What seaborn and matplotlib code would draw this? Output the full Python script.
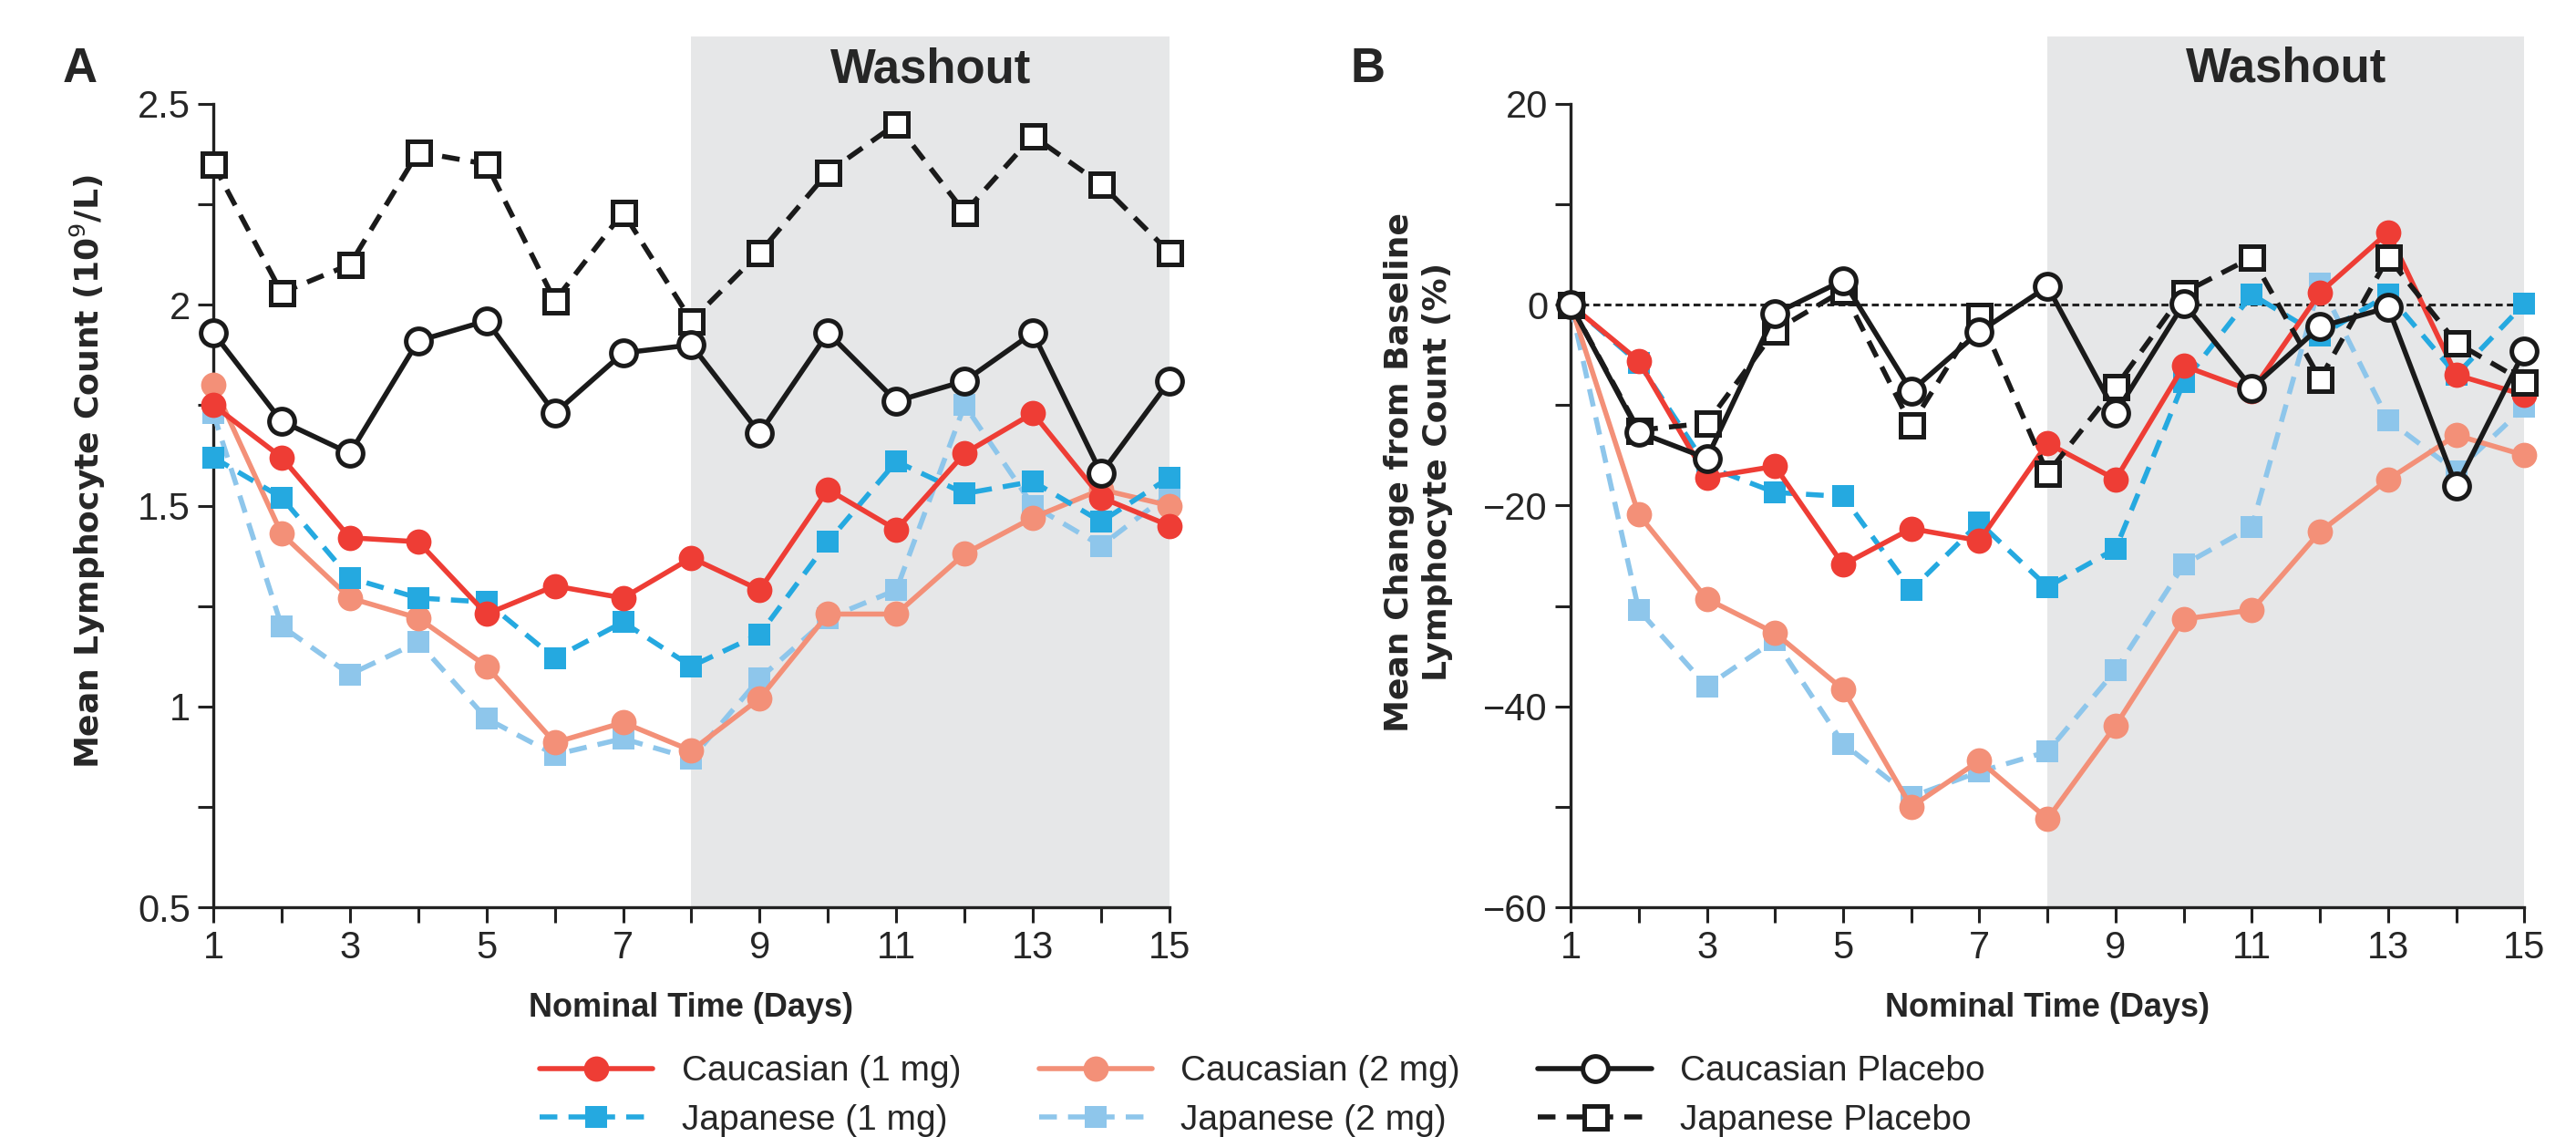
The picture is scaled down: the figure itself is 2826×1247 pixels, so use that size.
import matplotlib
matplotlib.use("Agg")
import matplotlib.pyplot as plt
import seaborn as sns
import pandas as pd

days = list(range(1, 16))

# Panel A: mean lymphocyte count (10^9/L)
a_cauc_1mg = [1.75, 1.62, 1.42, 1.41, 1.23, 1.30, 1.27, 1.37, 1.29, 1.54, 1.44, 1.63, 1.73, 1.52, 1.45]
a_jap_1mg = [1.62, 1.52, 1.32, 1.27, 1.26, 1.12, 1.21, 1.10, 1.18, 1.41, 1.61, 1.53, 1.56, 1.46, 1.57]
a_cauc_2mg = [1.80, 1.43, 1.27, 1.22, 1.10, 0.91, 0.96, 0.89, 1.02, 1.23, 1.23, 1.38, 1.47, 1.54, 1.50]
a_jap_2mg = [1.73, 1.20, 1.08, 1.16, 0.97, 0.88, 0.92, 0.87, 1.07, 1.22, 1.29, 1.75, 1.50, 1.40, 1.53]
a_cauc_pbo = [1.93, 1.71, 1.63, 1.91, 1.96, 1.73, 1.88, 1.90, 1.68, 1.93, 1.76, 1.81, 1.93, 1.58, 1.81]
a_jap_pbo = [2.35, 2.03, 2.10, 2.38, 2.35, 2.01, 2.23, 1.96, 2.13, 2.33, 2.45, 2.23, 2.42, 2.30, 2.13]

# Panel B: mean change from baseline (%)
b_cauc_1mg = [0, -5.6, -17.2, -16.1, -25.9, -22.3, -23.5, -13.8, -17.4, -6.1, -8.6, 1.2, 7.2, -7.0, -9.0]
b_jap_1mg = [0, -5.8, -16.1, -18.7, -19.1, -28.4, -21.7, -28.1, -24.3, -7.7, 1.0, -3.1, 1.0, -7.0, 0.1]
b_cauc_2mg = [0, -20.9, -29.3, -32.7, -38.3, -50.0, -45.4, -51.2, -41.9, -31.3, -30.4, -22.6, -17.4, -13.0, -15.0]
b_jap_2mg = [0, -30.4, -38.0, -33.4, -43.7, -49.0, -46.5, -44.5, -36.4, -25.9, -22.1, 2.1, -11.5, -16.6, -10.2]
b_cauc_pbo = [0, -12.7, -15.3, -0.9, 2.4, -8.6, -2.7, 1.8, -10.8, 0.1, -8.3, -2.2, -0.3, -18.1, -4.6]
b_jap_pbo = [0, -12.5, -11.8, -2.6, 1.4, -12.0, -1.1, -16.8, -8.2, 1.2, 4.7, -7.4, 4.7, -3.8, -7.7]

labels = ["Caucasian (1 mg)", "Japanese (1 mg)", "Caucasian (2 mg)",
          "Japanese (2 mg)", "Caucasian Placebo", "Japanese Placebo"]

RED = "#EE3D35"
SALMON = "#F39078"
BLUE = "#25A9E0"
LBLUE = "#8EC6EB"
dash = (0, (3.5, 2.2))

# label -> (colour, marker, linestyle, face, size)
styles = {
    "Caucasian (1 mg)": (RED, "o", "-", RED, 10),
    "Japanese (1 mg)": (BLUE, "s", dash, BLUE, 8.5),
    "Caucasian (2 mg)": (SALMON, "o", "-", SALMON, 10),
    "Japanese (2 mg)": (LBLUE, "s", dash, LBLUE, 8.5),
    "Caucasian Placebo": ("#1a1a1a", "o", "-", "white", 10),
    "Japanese Placebo": ("#1a1a1a", "s", dash, "white", 9),
}
draw_order = ["Japanese (2 mg)", "Caucasian (2 mg)", "Japanese (1 mg)",
              "Caucasian (1 mg)", "Japanese Placebo", "Caucasian Placebo"]

sns.set_style("white")
plt.rcParams["font.family"] = ["Liberation Sans Narrow", "Liberation Sans", "DejaVu Sans"]

fig = plt.figure(figsize=(14.13, 6.235), dpi=200)
axA = fig.add_axes([0.0828, 0.202, 0.3712, 0.766])
axB = fig.add_axes([0.6097, 0.202, 0.3703, 0.766])

panels = [
    (axA, dict(zip(labels, [a_cauc_1mg, a_jap_1mg, a_cauc_2mg, a_jap_2mg, a_cauc_pbo, a_jap_pbo])),
     (0.5, 2.5), 2.668, 2.586, [0.5, 1, 1.5, 2, 2.5], ["0.5", "1", "1.5", "2", "2.5"],
     [0.75, 1.25, 1.75, 2.25], "Mean Lymphocyte Count (10$^{9}$/L)", "A"),
    (axB, dict(zip(labels, [b_cauc_1mg, b_jap_1mg, b_cauc_2mg, b_jap_2mg, b_cauc_pbo, b_jap_pbo])),
     (-60, 20), 26.7, 23.45, [-60, -40, -20, 0, 20], ["\u221260", "\u221240", "\u221220", "0", "20"],
     [-50, -30, -10, 10], "Mean Change from Baseline\nLymphocyte Count (%)", "B"),
]

handles = {}
for ax, data, (ylo, yhi), ytop, ywash, yt, ytl, ymin, ylab, letter in panels:
    ax.axvspan(8, 15, ymin=0, ymax=1, color="#E6E7E8", lw=0, zorder=0)
    if letter == "B":
        ax.axhline(0, color="#222222", lw=1.1, ls=(0, (2.5, 1.5)), zorder=1)
    for i, name in enumerate(draw_order):
        col, mk, ls, face, ms = styles[name]
        df = pd.DataFrame({"day": days, "value": data[name]})
        sns.lineplot(data=df, x="day", y="value", ax=ax, color=col, lw=2.0,
                     linestyle=ls, marker=mk, markersize=ms, markerfacecolor=face,
                     markeredgecolor=col if face != "white" else "#1a1a1a",
                     markeredgewidth=0 if face != "white" else 1.8,
                     clip_on=False, zorder=3 + i, label=name)
    ax.set_xlim(1, 15)
    ax.set_ylim(ylo, ytop)
    ax.spines["top"].set_visible(False)
    ax.spines["right"].set_visible(False)
    for s in ("left", "bottom"):
        ax.spines[s].set_linewidth(1.2)
        ax.spines[s].set_color("#222222")
    ax.spines["left"].set_bounds(ylo, yhi)
    ax.set_xticks(days)
    ax.set_xticklabels([str(d) if d % 2 == 1 else "" for d in days])
    ax.set_yticks(yt)
    ax.set_yticklabels(ytl)
    ax.set_yticks(ymin, minor=True)
    ax.tick_params(axis="both", which="both", direction="out", length=6, width=1.1,
                   color="#222222", labelsize=15, pad=3)
    ax.tick_params(axis="both", which="major", left=True, bottom=True)
    ax.tick_params(axis="y", which="minor", left=True, length=6)
    ax.set_xlabel("Nominal Time (Days)", fontsize=13, fontweight="bold",
                  family=["Liberation Sans", "DejaVu Sans"], labelpad=10)
    ax.set_ylabel(ylab, fontsize=13, fontweight="bold",
                  family=["DejaVu Sans"], labelpad=12, linespacing=1.3)
    ax.text(11.5, ywash, "Washout", ha="center", va="center",
            fontsize=19, fontweight="bold", family=["Liberation Sans", "DejaVu Sans"])
    if ax.legend_:
        ax.legend_.remove()
    if letter == "A":
        hl, ll = ax.get_legend_handles_labels()
        handles = dict(zip(ll, hl))

fig.text(0.031, 0.939, "A", fontsize=19, fontweight="bold", ha="center", va="center",
         family=["Liberation Sans", "DejaVu Sans"])
fig.text(0.531, 0.939, "B", fontsize=19, fontweight="bold", ha="center", va="center",
         family=["Liberation Sans", "DejaVu Sans"])

fig.legend([handles[l] for l in labels], labels, loc="lower center",
           bbox_to_anchor=(0.49, -0.028), ncol=3, frameon=False, fontsize=14,
           handlelength=3.2, columnspacing=2.2, labelspacing=0.45, handletextpad=0.8)

fig.savefig("out.png", dpi=200, facecolor="white")
